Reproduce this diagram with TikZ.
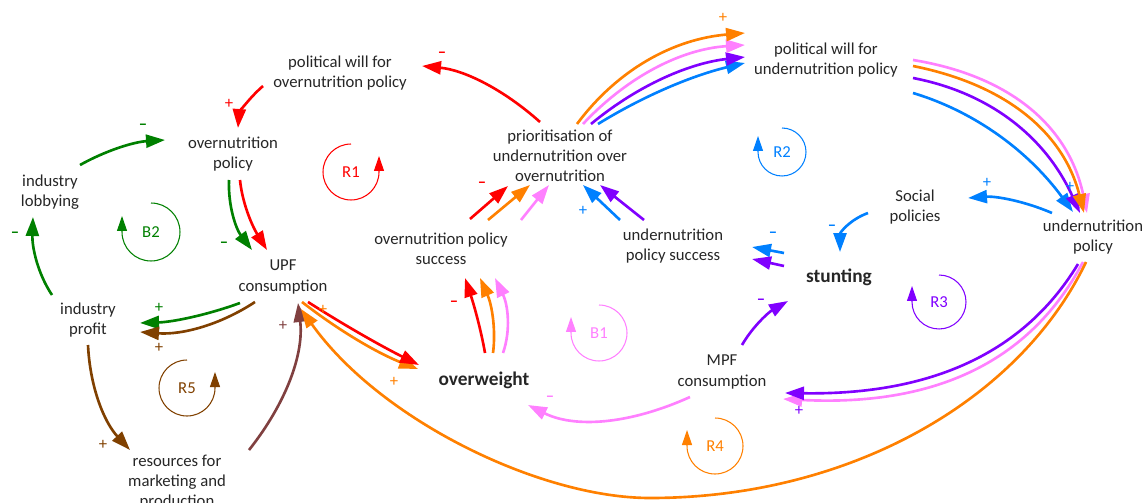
\documentclass[tikz,border=0pt]{standalone}
\usepackage{fontspec}
\setmainfont{Carlito}
\usetikzlibrary{arrows.meta}
\definecolor{cdred}{RGB}{255,0,0}
\definecolor{cdgreen}{RGB}{0,128,0}
\definecolor{cdbrown}{RGB}{128,64,0}
\definecolor{cdmaroon}{RGB}{128,64,64}
\definecolor{cdorange}{RGB}{255,128,0}
\definecolor{cdpink}{RGB}{255,128,255}
\definecolor{cdpurple}{RGB}{128,0,255}
\definecolor{cdblue}{RGB}{0,128,255}
\tikzset{
  var/.style={align=center,inner sep=0pt,text=black!85,font=\fontsize{9.5}{11.4}\selectfont},
  mainvar/.style={var,font=\fontsize{11}{13}\selectfont\bfseries},
  link/.style={line width=1.5pt,-{Triangle[length=3.8mm,width=2.6mm]}},
  looparc/.style={line width=0.6pt,-{Triangle[length=3mm,width=2mm]}},
  looplab/.style={inner sep=0pt,font=\fontsize{9.5}{11.4}\selectfont},
  polarity/.style={inner sep=0pt,font=\fontsize{9.5}{11.4}\selectfont},
}
\begin{document}
\begin{tikzpicture}[x=0.02cm,y=-0.02cm]
                \useasboundingbox (0,0) rectangle (1145,503);
                %% variables
                \node[var] (pwo) at (340,73) {political will for\\overnutrition policy};
                \node[var] (onp) at (233,154) {overnutrition\\policy};
                \node[var] (lob) at (50,192) {industry\\lobbying};
                \node[var] (prof) at (88,320) {industry\\profit};
                \node[var] (upf) at (283,277) {UPF\\consumption};
                \node[var] (res) at (177,482) {resources for\\marketing and\\production};
                \node[var] (prio) at (560,156) {prioritisation of\\undernutrition over\\overnutrition};
                \node[var] (ops) at (441,249) {overnutrition policy\\success};
                \node[var] (ups) at (673,246) {undernutrition\\policy success};
                \node[var] (pwu) at (826,60) {political will for\\undernutrition policy};
                \node[var] (soc) at (915,207) {Social\\policies};
                \node[var] (unp) at (1093,237) {undernutrition\\policy};
                \node[var] (mpf) at (722,372) {MPF\\consumption};
                \node[mainvar] (stu) at (839,277) {stunting};
                \node[mainvar] (ow) at (484,380) {overweight};
                %% overnutrition and industry links
                \draw[link,cdred] ([shift={(-20,-34)}]prio.center) .. controls +(-37,-33) and +(42,4) .. ([shift={(82,-7)}]pwo.center);
                \draw[link,cdred] ([shift={(-77,13)}]pwo.center) .. controls +(-16,14) and +(1,-14) .. ([shift={(5,-26)}]onp.center);
                \draw[link,cdgreen] ([shift={(-4,26)}]onp.center) .. controls +(-1,26) and +(-16,-21) .. ([shift={(-31,-27)}]upf.center);
                \draw[link,cdred] ([shift={(7,26)}]onp.center) .. controls +(2,21) and +(-16,-26) .. ([shift={(-16,-27)}]upf.center);
                \draw[link,cdgreen] ([shift={(30,-27)}]lob.center) .. controls +(25,-14) and +(-32,2) .. ([shift={(-68,-14)}]onp.center);
                \draw[link,cdgreen] ([shift={(-36,-25)}]prof.center) .. controls +(-14,-21) and +(-1,31) .. ([shift={(-17,25)}]lob.center);
                \draw[link,cdgreen] ([shift={(-43,26)}]upf.center) .. controls +(-33,12) and +(33,-1) .. ([shift={(52,3)}]prof.center);
                \draw[link,cdbrown] ([shift={(-28,25)}]upf.center) .. controls +(-35,23) and +(42,3) .. ([shift={(52,12)}]prof.center);
                \draw[link,cdbrown] ([shift={(0,25)}]prof.center) .. controls +(2,42) and +(-26,-28) .. ([shift={(-47,-32)}]res.center);
                \draw[link,cdmaroon] ([shift={(72,-32)}]res.center) .. controls +(38,-48) and +(6,50) .. ([shift={(15,26)}]upf.center);
                \draw[link,cdorange] ([shift={(19,25)}]upf.center) .. controls +(36,28) and +(-41,-16) .. ([shift={(-66,-11)}]ow.center);
                \draw[link,cdred] ([shift={(25,25)}]upf.center) .. controls +(36,23) and +(-38,-19) .. ([shift={(-65,-15)}]ow.center);
                %% overweight and policy success
                \draw[link,cdred] ([shift={(1,-27)}]ow.center) .. controls +(-4,-23) and +(9,27) .. ([shift={(24,29)}]ops.center);
                \draw[link,cdorange] ([shift={(9,-27)}]ow.center) .. controls +(3,-23) and +(12,27) .. ([shift={(39,29)}]ops.center);
                \draw[link,cdpink] ([shift={(19,-27)}]ow.center) .. controls +(8,-23) and +(13,27) .. ([shift={(54,29)}]ops.center);
                \draw[link,cdred] ([shift={(29,-30)}]ops.center) -- ([shift={(-52,30)}]prio.center);
                \draw[link,cdorange] ([shift={(47,-29)}]ops.center) -- ([shift={(-30,29)}]prio.center);
                \draw[link,cdpink] ([shift={(80,-29)}]ops.center) -- ([shift={(-11,29)}]prio.center);
                \draw[link,cdblue] ([shift={(-53,-26)}]ups.center) -- ([shift={(23,29)}]prio.center);
                \draw[link,cdpurple] ([shift={(-29,-26)}]ups.center) -- ([shift={(40,29)}]prio.center);
                %% undernutrition links
                \draw[link,cdblue] ([shift={(38,-32)}]prio.center) .. controls +(47,-29) and +(-51,12) .. ([shift={(-81,3)}]pwu.center);
                \draw[link,cdpurple] ([shift={(31,-32)}]prio.center) .. controls +(47,-39) and +(-55,6) .. ([shift={(-81,-3)}]pwu.center);
                \draw[link,cdpink] ([shift={(23,-32)}]prio.center) .. controls +(45,-48) and +(-63,4) .. ([shift={(-81,-15)}]pwu.center);
                \draw[link,cdorange] ([shift={(17,-32)}]prio.center) .. controls +(41,-55) and +(-71,6) .. ([shift={(-81,-27)}]pwu.center);
                \draw[link,cdpink] ([shift={(87,0)}]pwu.center) .. controls +(98,16) and +(-18,-86) .. ([shift={(-6,-24)}]unp.center);
                \draw[link,cdblue] ([shift={(87,33)}]pwu.center) .. controls +(63,19) and +(-44,-60) .. ([shift={(-20,-25)}]unp.center);
                \draw[link,cdpurple] ([shift={(87,18)}]pwu.center) .. controls +(78,15) and +(-34,-75) .. ([shift={(-13,-24)}]unp.center);
                \draw[link,cdorange] ([shift={(87,6)}]pwu.center) .. controls +(95,19) and +(-20,-79) .. ([shift={(-9,-24)}]unp.center);
                \draw[link,cdblue] ([shift={(-41,-24)}]unp.center) .. controls +(-28,-12) and +(28,-2) .. ([shift={(53,-9)}]soc.center);
                \draw[link,cdblue] ([shift={(-47,6)}]soc.center) .. controls +(-19,7) and +(0,-19) .. ([shift={(1,-25)}]stu.center);
                \draw[link,cdblue] ([shift={(-55,-24)}]stu.center) -- ([shift={(79,1)}]ups.center);
                \draw[link,cdpurple] ([shift={(-55,-11)}]stu.center) -- ([shift={(79,13)}]ups.center);
                \draw[link,cdpurple] ([shift={(20,-27)}]mpf.center) .. controls +(11,-19) and +(-19,11) .. ([shift={(-51,24)}]stu.center);
                \draw[link,cdpink] ([shift={(-32,25)}]mpf.center) .. controls +(-62,28) and +(46,23) .. ([shift={(44,25)}]ow.center);
                \draw[link,cdpink] ([shift={(-10,25)}]unp.center) .. controls (1025,372) and (920,406) .. ([shift={(61,27)}]mpf.center);
                \draw[link,cdpurple] ([shift={(-15,27)}]unp.center) .. controls (1020,360) and (920,395) .. ([shift={(63,21)}]mpf.center);
                \draw[link,cdorange] ([shift={(-7,25)}]unp.center) .. controls (1020,400) and (850,498) .. (650,498)
                    .. controls (540,498) and (380,420) .. ([shift={(18,32)}]upf.center);
                %% loops
                \foreach \lab/\col/\x/\y/\r in {R1/cdred/351/172/0.56,R5/cdbrown/187/388/0.56} {
                    \node[looplab,text=\col] (\lab) at (\x,\y) {\lab};
                    \draw[looparc,\col] ([shift={(0,\r cm)}]\lab.center) arc[start angle=90,end angle=360,radius=\r cm] -- ++(0,-16);
                }
                \foreach \lab/\col/\x/\y/\r in {B2/cdgreen/151/232/0.58,B1/cdpink/599/333/0.56,R2/cdblue/782/152/0.48,
                        R3/cdpurple/939/302/0.54,R4/cdorange/715/446/0.56} {
                    \node[looplab,text=\col] (\lab) at (\x,\y) {\lab};
                    \draw[looparc,\col] ([shift={(0,\r cm)}]\lab.center) arc[start angle=90,end angle=-180,radius=\r cm] -- ++(0,-16);
                }
                %% polarities
                \foreach \col/\x/\y [count=\i] in {cdred/442/55,cdgreen/224/245,cdgreen/143/127,cdgreen/15/235,cdred/454/304,
                        cdred/482/185,cdblue/832/228,cdblue/773/235,cdpurple/761/302,cdpink/550/399}
                    \node[polarity,text=\col] (minus\i) at (\x,\y) {\bfseries\textendash};
                \foreach \col/\x/\y [count=\i] in {cdred/229/104,cdgreen/159/308,cdbrown/159/348,cdbrown/103/445,cdmaroon/283/326,
                        cdorange/323/310,cdorange/394/382,cdblue/583/211,cdorange/723/18,cdblue/1070/187,cdblue/987/183,cdpurple/799/411}
                    \node[polarity,text=\col] (plus\i) at (\x,\y) {+};
            \end{tikzpicture}
\end{document}
